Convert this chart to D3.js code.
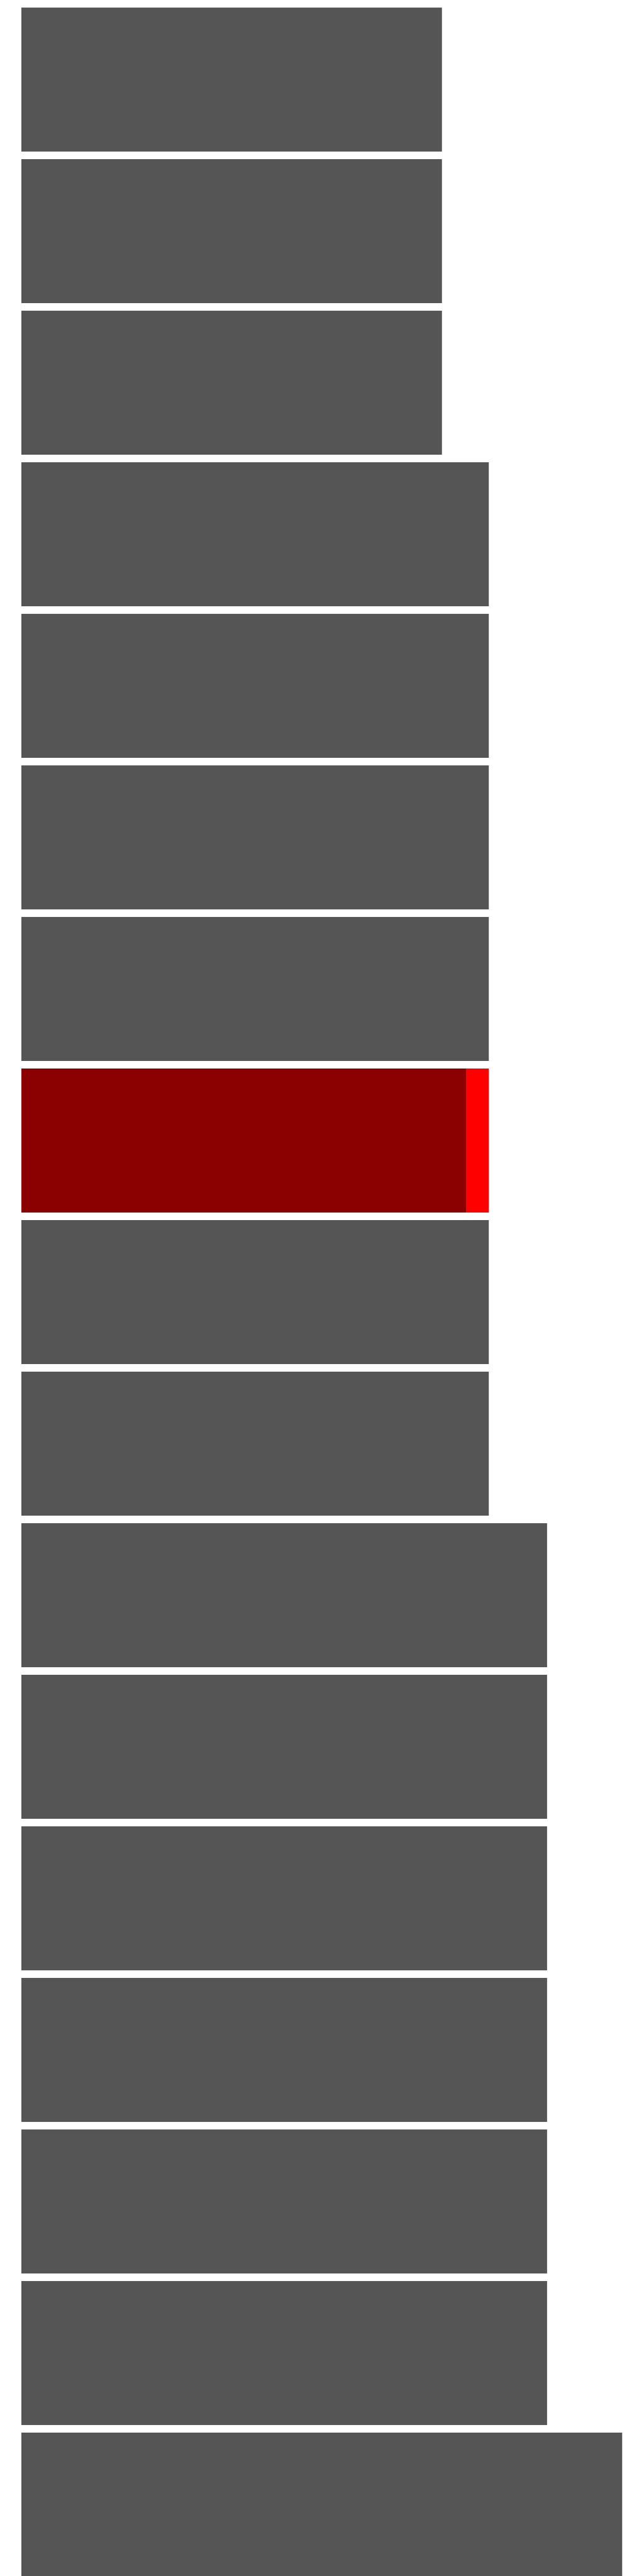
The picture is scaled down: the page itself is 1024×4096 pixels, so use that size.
<!DOCTYPE html>
<html>
<head>
<meta charset="utf-8">
<script src="https://cdn.jsdelivr.net/npm/d3@7"></script>
<style>
  html, body { margin: 0; padding: 0; background: #ffffff; }
  svg { display: block; }
</style>
</head>
<body>
<script>
// Data
const categories = ["1","2","3","4","5","6","7","8","9","10","11","12","13","14","15","16","17"];
const values = [70, 70, 70, 77.8, 77.8, 77.8, 77.8, 77.8, 77.8, 77.8, 87.5, 87.5, 87.5, 87.5, 87.5, 87.5, 100];
const highlightIndex = 7;
const highlightBase = 74.0;   // dark red portion of the highlighted bar

const W = 1024, H = 4096;
const svg = d3.select("body").append("svg").attr("width", W).attr("height", H);

const x = d3.scaleLinear().domain([0, 100]).range([34, 989.3]);
const y = d3.scaleBand().domain(categories).range([0, 4109]).paddingInner(0.05).paddingOuter(0.05);

const rows = categories.map((c, i) => ({ c, v: values[i], i }));

svg.append("g").selectAll("rect.bar")
  .data(rows)
  .join("rect")
  .attr("class", "bar")
  .attr("x", x(0))
  .attr("y", d => y(d.c))
  .attr("height", y.bandwidth())
  .attr("width", d => x(d.v) - x(0))
  .attr("fill", d => d.i === highlightIndex ? "#ff0000" : "#555555");

const h = rows[highlightIndex];
svg.append("rect")
  .attr("x", x(0))
  .attr("y", y(h.c))
  .attr("height", y.bandwidth())
  .attr("width", x(highlightBase) - x(0))
  .attr("fill", "#8b0000");
</script>
</body>
</html>
